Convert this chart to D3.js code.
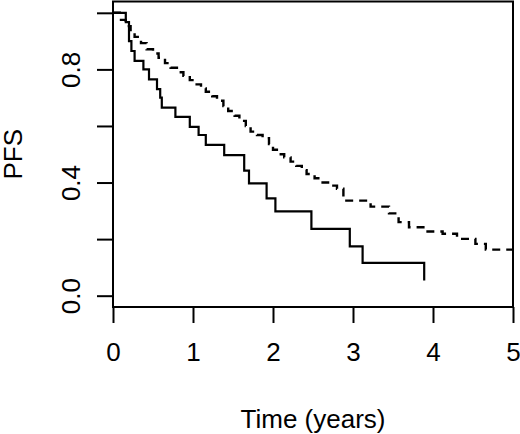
<!DOCTYPE html>
<html>
<head>
<meta charset="utf-8">
<script src="https://cdn.jsdelivr.net/npm/d3@7"></script>
<style>
  body { margin: 0; background: #fff; }
  text { font-family: "Liberation Sans", Arial, sans-serif; fill: #000; }
</style>
</head>
<body>
<script>
// solid curve (smaller group): drop times and survival after each drop
var solidTimes = [0, 0.16, 0.20, 0.23, 0.27, 0.38, 0.45, 0.55, 0.59, 0.61, 0.78, 0.96, 1.07, 1.16, 1.39, 1.64, 1.70, 1.92, 2.03, 2.48, 2.96, 3.12, 3.89];
var solidPFS   = [1.0, 0.967, 0.90, 0.865, 0.83, 0.80, 0.765, 0.73, 0.70, 0.665, 0.632, 0.597, 0.568, 0.533, 0.497, 0.442, 0.397, 0.344, 0.298, 0.236, 0.174, 0.116, 0.054];
var solidEnd = 3.89;

// dashed curve (larger group)
var dashTimes = [0, 0.10, 0.16, 0.22, 0.27, 0.35, 0.42, 0.50, 0.57, 0.65, 0.72, 0.82, 0.88, 0.96, 1.02, 1.10, 1.16, 1.24, 1.30, 1.38, 1.44, 1.52, 1.58, 1.66, 1.72, 1.80, 1.87, 1.95, 2.00, 2.08, 2.14, 2.22, 2.29, 2.36, 2.42, 2.52, 2.62, 2.72, 2.80, 2.88, 3.22, 3.45, 3.57, 3.70, 3.90, 4.12, 4.30, 4.53, 4.66];
var dashPFS   = [1.0, 0.975, 0.953, 0.93, 0.915, 0.893, 0.871, 0.856, 0.841, 0.822, 0.806, 0.79, 0.777, 0.762, 0.747, 0.733, 0.721, 0.705, 0.689, 0.67, 0.653, 0.636, 0.618, 0.60, 0.58, 0.568, 0.557, 0.536, 0.516, 0.50, 0.489, 0.474, 0.459, 0.444, 0.430, 0.415, 0.40, 0.389, 0.378, 0.336, 0.315, 0.291, 0.26, 0.242, 0.227, 0.219, 0.201, 0.183, 0.163];
var dashEnd = 5.0;

var xTicks = [0, 1, 2, 3, 4, 5];
var yTicks = [0, 0.2, 0.4, 0.6, 0.8, 1.0];
var yLabels = ["0.0", "", "0.4", "", "0.8", ""];

var width = 520, height = 434;
var margin = { top: 1.5, right: 7, bottom: 127, left: 113 };

var svg = d3.select('body')
  .append('svg')
  .attr('width', width)
  .attr('height', height)
  .style('background', '#fff');

var xScale = d3.scaleLinear()
  .domain([0, 5])
  .range([margin.left, width - margin.right]);

var yScale = d3.scaleLinear()
  .domain([-0.04, 1.04])
  .range([height - margin.bottom, margin.top]);

// Axes
var xAxis = svg.append('g')
  .attr('transform', `translate(0,${height - margin.bottom})`)
  .call(d3.axisBottom(xScale).tickValues(xTicks).tickSize(16).tickPadding(20).tickFormat(d3.format('d')));

var yAxis = svg.append('g')
  .attr('transform', `translate(${margin.left},0)`)
  .call(d3.axisLeft(yScale).tickValues(yTicks).tickSize(16).tickFormat(function(d, i) { return yLabels[i]; }));

svg.selectAll('.domain').remove();
svg.selectAll('.tick line').attr('stroke', '#000').attr('stroke-width', 2);
xAxis.selectAll('.tick text').style('font-size', '26px');
yAxis.selectAll('.tick text')
  .style('font-size', '26px')
  .attr('text-anchor', 'middle')
  .attr('x', null)
  .attr('dy', '0')
  .attr('transform', 'translate(-33,0) rotate(-90)');

// box
svg.append('rect')
  .attr('x', margin.left)
  .attr('y', margin.top)
  .attr('width', width - margin.right - margin.left)
  .attr('height', height - margin.bottom - margin.top)
  .attr('fill', 'none')
  .attr('stroke', '#000')
  .attr('stroke-width', 2);

// Curves
function stepData(times, vals, end) {
  var pts = times.map(function(t, i) { return [t, vals[i]]; });
  pts.push([end, vals[vals.length - 1]]);
  return pts;
}

var line = d3.line()
  .x(function(d) { return xScale(d[0]); })
  .y(function(d) { return yScale(d[1]); })
  .curve(d3.curveStepAfter);

svg.append('path')
  .datum(stepData(dashTimes, dashPFS, dashEnd))
  .attr('d', line)
  .attr('fill', 'none')
  .attr('stroke', '#000')
  .attr('stroke-width', 2.4)
  .attr('stroke-dasharray', '8,6');

svg.append('path')
  .datum(stepData(solidTimes, solidPFS, solidEnd))
  .attr('d', line)
  .attr('fill', 'none')
  .attr('stroke', '#000')
  .attr('stroke-width', 2.2);

// Axis titles
svg.append('text')
  .attr('x', (margin.left + width - margin.right) / 2)
  .attr('y', 428)
  .attr('text-anchor', 'middle')
  .style('font-size', '26px')
  .text('Time (years)');

svg.append('text')
  .attr('transform', `translate(22,${(margin.top + height - margin.bottom) / 2}) rotate(-90)`)
  .attr('text-anchor', 'middle')
  .style('font-size', '26px')
  .text('PFS');
</script>
</body>
</html>
